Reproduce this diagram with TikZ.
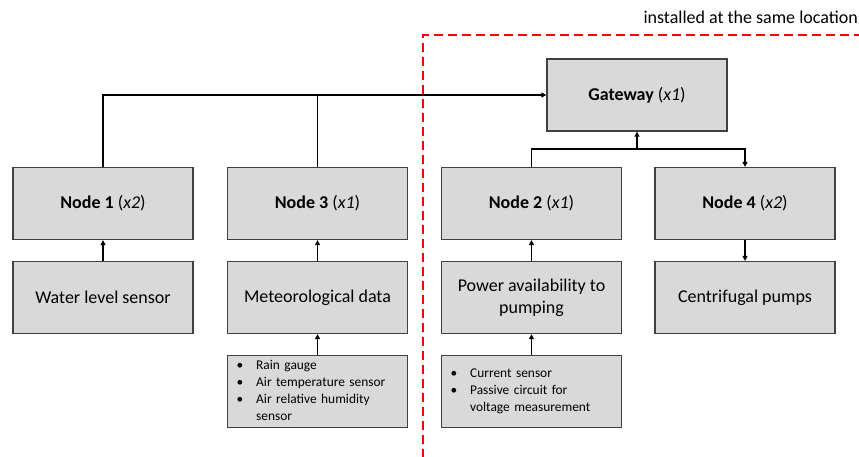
\documentclass[tikz,border=0pt]{standalone}
\usepackage{fontspec}
\setmainfont{Carlito}
\usetikzlibrary{arrows.meta}
\definecolor{boxfill}{HTML}{D9D9D9}
\definecolor{boxline}{HTML}{404040}
\definecolor{zonered}{HTML}{FF0000}
\begin{document}
\begin{tikzpicture}[x=1pt,y=-1pt,
  box/.style={draw=boxline, fill=boxfill, line width=1.3pt, minimum width=180pt, minimum height=72pt, inner sep=0pt, align=center, font=\fontsize{18}{22}\selectfont},
  listbox/.style={draw=boxline, fill=boxfill, line width=1.3pt, minimum width=180pt, minimum height=72pt, inner xsep=9pt, inner ysep=0pt, text width=162pt, align=left, font=\fontsize{13.4}{17}\selectfont},
  conn/.style={draw=black, line width=1.2pt},
  arr/.style={conn, -{Triangle[length=5pt,width=5pt]}},
  zone/.style={draw=zonered, line width=2pt, dash pattern=on 9pt off 5pt}
]
\useasboundingbox (0,0) rectangle (859,456);
% label
\node[anchor=east, inner sep=0pt, font=\fontsize{18}{20}\selectfont] (lbl) at (858,17) {installed at the same location};
% red dashed zone
\coordinate (zb) at (423,458);
\coordinate (zc) at (423,35);
\coordinate (ze) at (861,35);
\draw[zone] (zb) -- (zc) -- (ze);
% top row
\node[box] (gw) at (637,95) {\textbf{Gateway} (\textit{x1})};
% node row
\node[box] (n1) at (103,203.5) {\textbf{Node 1} (\textit{x2})};
\node[box] (n3) at (317.5,203.5) {\textbf{Node 3} (\textit{x1})};
\node[box] (n2) at (531.5,203.5) {\textbf{Node 2} (\textit{x1})};
\node[box] (n4) at (745,203.5) {\textbf{Node 4} (\textit{x2})};
% second row
\node[box] (ws) at (103,297.5) {Water level sensor};
\node[box] (md) at (317.5,297.5) {Meteorological data};
\node[box] (pa) at (531.5,297.5) {Power availability to\\pumping};
\node[box] (cp) at (745,297.5) {Centrifugal pumps};
% third row
\node[listbox] (rg) at (317.5,391.5) {\begin{tabular}{@{}l@{\hspace{13pt}}l@{}}
\textbullet & Rain gauge\\
\textbullet & Air temperature sensor\\
\textbullet & Air relative humidity\\
 & sensor
\end{tabular}};
\node[listbox] (cs) at (531.5,391.5) {\begin{tabular}{@{}l@{\hspace{13pt}}l@{}}
\textbullet & Current sensor\\
\textbullet & Passive circuit for\\
 & voltage measurement
\end{tabular}};
% connectors
\draw[arr] (n1.north) |- (gw.west);
\coordinate (t3) at (n3.north |- gw.west);
\draw[conn] (n3.north) -- (t3);
\coordinate (jn) at (637,149);
\draw[arr] (jn) -- (gw.south);
\draw[conn] (n2.north) |- (jn);
\draw[arr] (jn) -| (n4.north);
\draw[arr] (ws.north) -- (n1.south);
\draw[arr] (md.north) -- (n3.south);
\draw[arr] (pa.north) -- (n2.south);
\draw[arr] (n4.south) -- (cp.north);
\draw[arr] (rg.north) -- (md.south);
\draw[arr] (cs.north) -- (pa.south);
\end{tikzpicture}
\end{document}
